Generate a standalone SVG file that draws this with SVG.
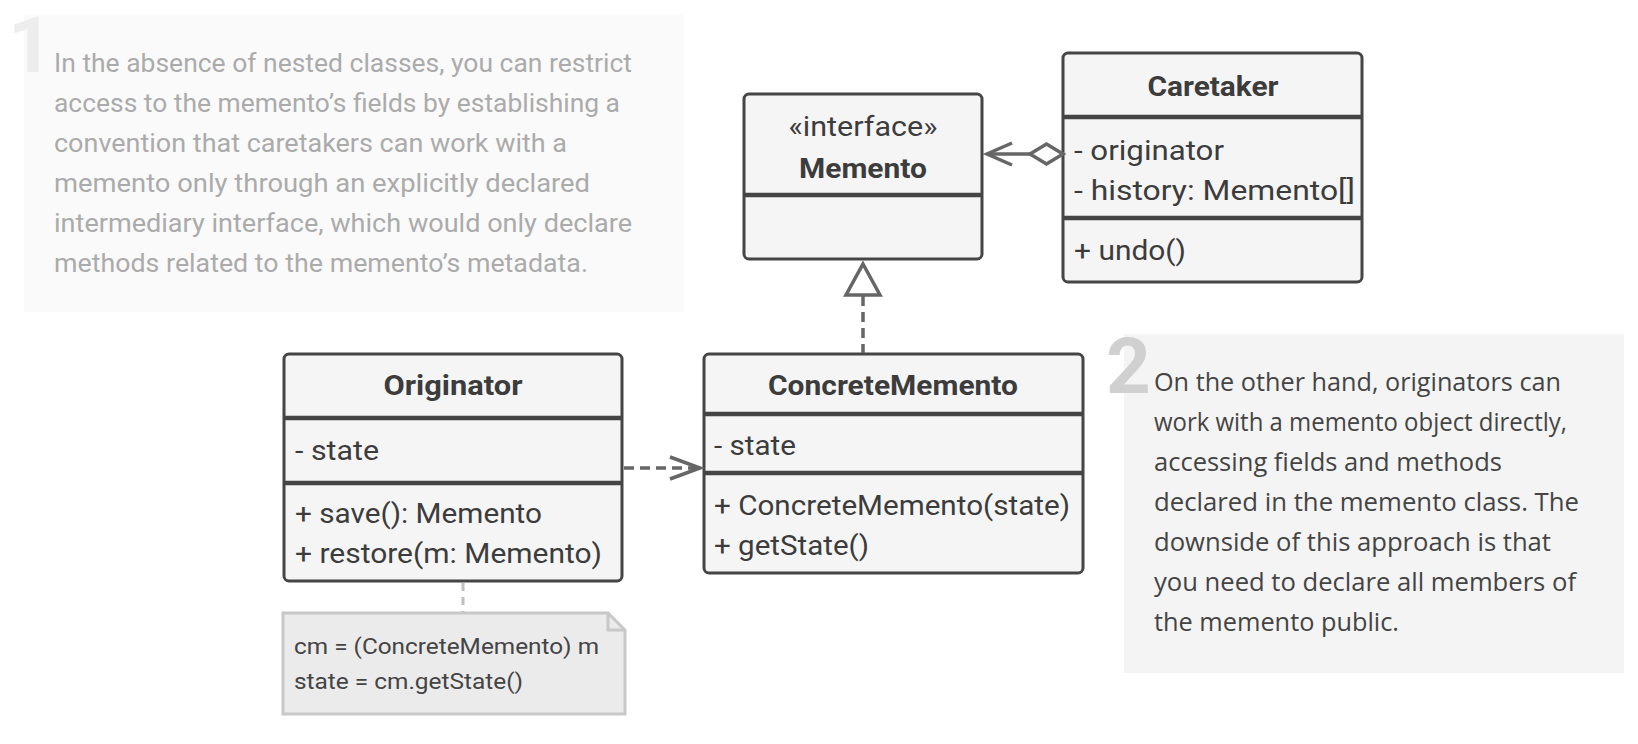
<svg xmlns="http://www.w3.org/2000/svg" width="1638" height="744" viewBox="0 0 1638 744">
<style>
.box{fill:#f5f5f5;stroke:#454545;stroke-width:3;}
.div{stroke:#454545;stroke-width:4.5;}
.t{font-family:Roboto,"Liberation Sans",sans-serif;font-size:27px;fill:#3c3c3c;}
.b{font-weight:bold;}
.n1{font-family:Roboto,"Liberation Sans",sans-serif;font-size:25px;fill:#ababab;}
.n2{font-family:"Open Sans","Liberation Sans",sans-serif;font-size:25px;fill:#444;}
.nt{font-family:Roboto,"Liberation Sans",sans-serif;font-size:22px;fill:#444;}
.num{font-family:Roboto,"Liberation Sans",sans-serif;font-size:78px;font-weight:bold;}
.con{fill:none;stroke:#666;stroke-width:3.5;}
</style>
<rect width="1638" height="744" fill="#ffffff"/>

<g id="note1">
<rect x="24" y="15" width="660" height="297" fill="#fafafa"/>
<text class="num" x="8" y="72" fill="#ededed">1</text>
<text class="n1" x="54" y="72" textLength="578" lengthAdjust="spacingAndGlyphs">In the absence of nested classes, you can restrict</text>
<text class="n1" x="54" y="112" textLength="566" lengthAdjust="spacingAndGlyphs">access to the memento’s fields by establishing a</text>
<text class="n1" x="54" y="152" textLength="513" lengthAdjust="spacingAndGlyphs">convention that caretakers can work with a</text>
<text class="n1" x="54" y="192" textLength="536" lengthAdjust="spacingAndGlyphs">memento only through an explicitly declared</text>
<text class="n1" x="54" y="232" textLength="578" lengthAdjust="spacingAndGlyphs">intermediary interface, which would only declare</text>
<text class="n1" x="54" y="272" textLength="534" lengthAdjust="spacingAndGlyphs">methods related to the memento’s metadata.</text>
</g>

<g id="note2">
<rect x="1124" y="334" width="500" height="339" fill="#f4f4f4"/>
<text class="num" x="1106" y="393" fill="#d0d0d0">2</text>
<text class="n2" x="1154" y="391" textLength="407" lengthAdjust="spacingAndGlyphs">On the other hand, originators can</text>
<text class="n2" x="1154" y="431" textLength="413" lengthAdjust="spacingAndGlyphs">work with a memento object directly,</text>
<text class="n2" x="1154" y="471" textLength="348" lengthAdjust="spacingAndGlyphs">accessing fields and methods</text>
<text class="n2" x="1154" y="511" textLength="425" lengthAdjust="spacingAndGlyphs">declared in the memento class. The</text>
<text class="n2" x="1154" y="551" textLength="397" lengthAdjust="spacingAndGlyphs">downside of this approach is that</text>
<text class="n2" x="1154" y="591" textLength="422" lengthAdjust="spacingAndGlyphs">you need to declare all members of</text>
<text class="n2" x="1154" y="631" textLength="245" lengthAdjust="spacingAndGlyphs">the memento public.</text>
</g>

<g id="memento">
<rect class="box" x="744" y="94" width="238" height="165" rx="5"/>
<line class="div" x1="744" y1="195" x2="982" y2="195"/>
<text class="t" x="863" y="136" text-anchor="middle" textLength="149" lengthAdjust="spacingAndGlyphs">«interface»</text>
<text class="t b" x="863" y="178" text-anchor="middle" textLength="128" lengthAdjust="spacingAndGlyphs">Memento</text>
</g>

<g id="caretaker">
<rect class="box" x="1063" y="53" width="299" height="229" rx="5"/>
<line class="div" x1="1063" y1="117" x2="1362" y2="117"/>
<line class="div" x1="1063" y1="218" x2="1362" y2="218"/>
<text class="t b" x="1213" y="96" text-anchor="middle" textLength="131" lengthAdjust="spacingAndGlyphs">Caretaker</text>
<text class="t" x="1074" y="160" textLength="150" lengthAdjust="spacingAndGlyphs">- originator</text>
<text class="t" x="1074" y="200" textLength="281" lengthAdjust="spacingAndGlyphs">- history: Memento[]</text>
<text class="t" x="1074" y="260" textLength="112" lengthAdjust="spacingAndGlyphs">+ undo()</text>
</g>

<g id="originator">
<rect class="box" x="284" y="354" width="338" height="227" rx="5"/>
<line class="div" x1="284" y1="418" x2="622" y2="418"/>
<line class="div" x1="284" y1="483" x2="622" y2="483"/>
<text class="t b" x="453" y="395" text-anchor="middle" textLength="139" lengthAdjust="spacingAndGlyphs">Originator</text>
<text class="t" x="295" y="460" textLength="84" lengthAdjust="spacingAndGlyphs">- state</text>
<text class="t" x="295" y="523" textLength="247" lengthAdjust="spacingAndGlyphs">+ save(): Memento</text>
<text class="t" x="295" y="563" textLength="307" lengthAdjust="spacingAndGlyphs">+ restore(m: Memento)</text>
</g>

<g id="concretememento">
<rect class="box" x="704" y="354" width="379" height="219" rx="5"/>
<line class="div" x1="704" y1="414" x2="1083" y2="414"/>
<line class="div" x1="704" y1="473" x2="1083" y2="473"/>
<text class="t b" x="893" y="395" text-anchor="middle" textLength="250" lengthAdjust="spacingAndGlyphs">ConcreteMemento</text>
<text class="t" x="714" y="455" textLength="82" lengthAdjust="spacingAndGlyphs">- state</text>
<text class="t" x="714" y="515" textLength="356" lengthAdjust="spacingAndGlyphs">+ ConcreteMemento(state)</text>
<text class="t" x="714" y="555" textLength="155" lengthAdjust="spacingAndGlyphs">+ getState()</text>
</g>

<g id="codenote">
<path d="M283,613 H608 L625,630 V714 H283 Z" fill="#ebebeb" stroke="#c8c8c8" stroke-width="3"/>
<path d="M608,613 V630 H625" fill="none" stroke="#c8c8c8" stroke-width="3"/>
<text class="nt" x="294" y="654" textLength="305" lengthAdjust="spacingAndGlyphs">cm = (ConcreteMemento) m</text>
<text class="nt" x="294" y="689" textLength="229" lengthAdjust="spacingAndGlyphs">state = cm.getState()</text>
</g>

<g id="connectors">
<!-- aggregation Caretaker -> Memento -->
<line class="con" x1="1030" y1="154" x2="987" y2="154"/>
<path class="con" d="M1012,143 L987,154 L1012,165"/>
<path d="M1063,154 L1046.5,144 L1030,154 L1046.5,164 Z" fill="#fff" stroke="#666" stroke-width="3.5"/>
<!-- realization ConcreteMemento -> Memento -->
<line class="con" x1="863" y1="296" x2="863" y2="353" stroke-dasharray="10,6"/>
<path d="M863,264 L880,295 L846,295 Z" fill="#fff" stroke="#666" stroke-width="3.5"/>
<!-- dependency Originator -> ConcreteMemento -->
<line class="con" x1="624" y1="468" x2="700" y2="468" stroke-dasharray="10,6"/>
<path class="con" d="M670,457 L700,468 L670,479"/>
<!-- note link -->
<line x1="463" y1="583" x2="463" y2="612" stroke="#c0c0c0" stroke-width="3" stroke-dasharray="8,6"/>
</g>
</svg>
